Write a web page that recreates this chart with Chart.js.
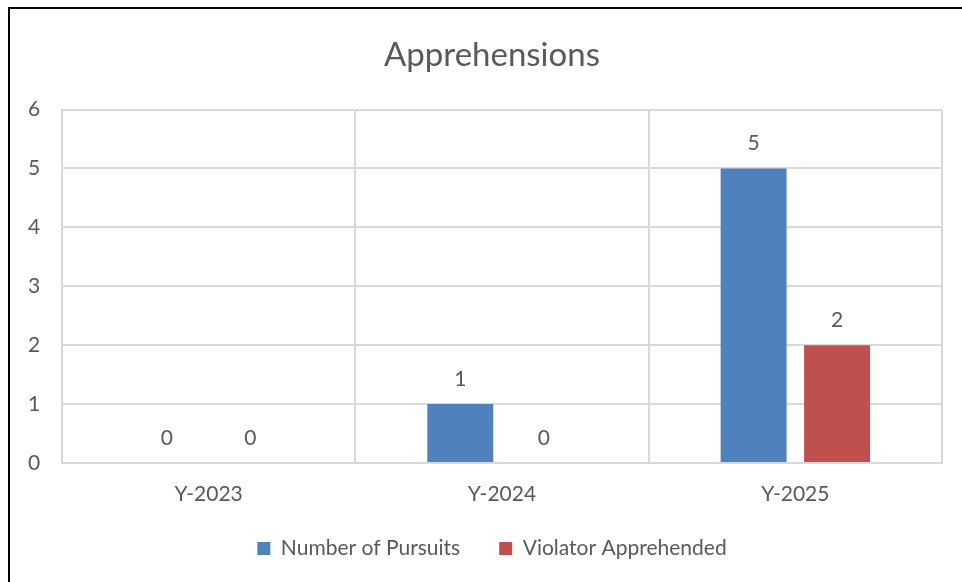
<!DOCTYPE html>
<html>
<head>
<meta charset="utf-8">
<script src="https://cdn.jsdelivr.net/npm/chart.js@4"></script>
<style>
  html, body { margin: 0; padding: 0; background: #fff; overflow: hidden; }
  #wrap { position: relative; width: 962px; height: 582px; }
  #frame {
    position: absolute; left: 8px; top: 7px; width: 1000px; height: 600px;
    border-left: 2px solid #000; border-top: 2px solid #000; pointer-events: none;
  }
</style>
</head>
<body>
<div id="wrap">
  <canvas id="barChart" width="962" height="582"></canvas>
  <div id="frame"></div>
</div>
<script>
const years = ["Y-2023", "Y-2024", "Y-2025"];
const pursuits = [0, 1, 5];
const apprehended = [0, 0, 2];
const yTicks = [0, 1, 2, 3, 4, 5, 6];

const textColor = "#595959";
const gridColor = "#d9d9d9";

// value labels above each bar (zeros included, like the original)
const valueLabels = {
  id: "valueLabels",
  afterDatasetsDraw(chart) {
    const ctx = chart.ctx;
    ctx.save();
    ctx.font = "21px Lato";
    ctx.fillStyle = textColor;
    ctx.textAlign = "center";
    ctx.textBaseline = "middle";
    chart.data.datasets.forEach((ds, i) => {
      chart.getDatasetMeta(i).data.forEach((bar, j) => {
        ctx.fillText(String(ds.data[j]), bar.x, bar.y - 25);
      });
    });
    ctx.restore();
  },
};

const ctx = document.getElementById("barChart");
new Chart(ctx, {
  type: "bar",
  data: {
    labels: years,
    datasets: [
      {
        label: "Number of Pursuits",
        data: pursuits,
        backgroundColor: "#4f81bd",
        categoryPercentage: 0.569,
        barPercentage: 0.79,
      },
      {
        label: "Violator Apprehended",
        data: apprehended,
        backgroundColor: "#c0504d",
        categoryPercentage: 0.569,
        barPercentage: 0.79,
      },
    ],
  },
  plugins: [valueLabels],
  options: {
    responsive: false,
    animation: false,
    layout: {
      padding: { left: 42, right: 20, top: 0, bottom: 13 },
    },
    plugins: {
      title: {
        display: true,
        text: "Apprehensions",
        color: textColor,
        font: { family: "Lato", size: 33, weight: "normal" },
        padding: { top: 36, bottom: 34 },
      },
      legend: {
        position: "bottom",
        labels: {
          color: textColor,
          font: { family: "Lato", size: 21 },
          boxWidth: 13,
          boxHeight: 13,
          padding: 39,
        },
      },
      tooltip: { enabled: false },
    },
    scales: {
      x: {
        grid: { color: gridColor, lineWidth: 2, drawTicks: false },
        border: { color: gridColor, width: 2 },
        ticks: {
          color: textColor,
          font: { family: "Lato", size: 21 },
          mirror: true,
          padding: -44,
        },
        afterFit(scale) {
          scale.height = 36;
        },
      },
      y: {
        min: 0,
        max: 6,
        grid: { color: gridColor, lineWidth: 2, drawTicks: false },
        border: { color: gridColor, width: 2 },
        afterBuildTicks(scale) {
          scale.ticks = yTicks.map((v) => ({ value: v }));
        },
        ticks: {
          color: textColor,
          font: { family: "Lato", size: 21 },
          mirror: true,
          padding: -34,
        },
        afterFit(scale) {
          scale.width = 20;
        },
      },
    },
  },
});
</script>
</body>
</html>
